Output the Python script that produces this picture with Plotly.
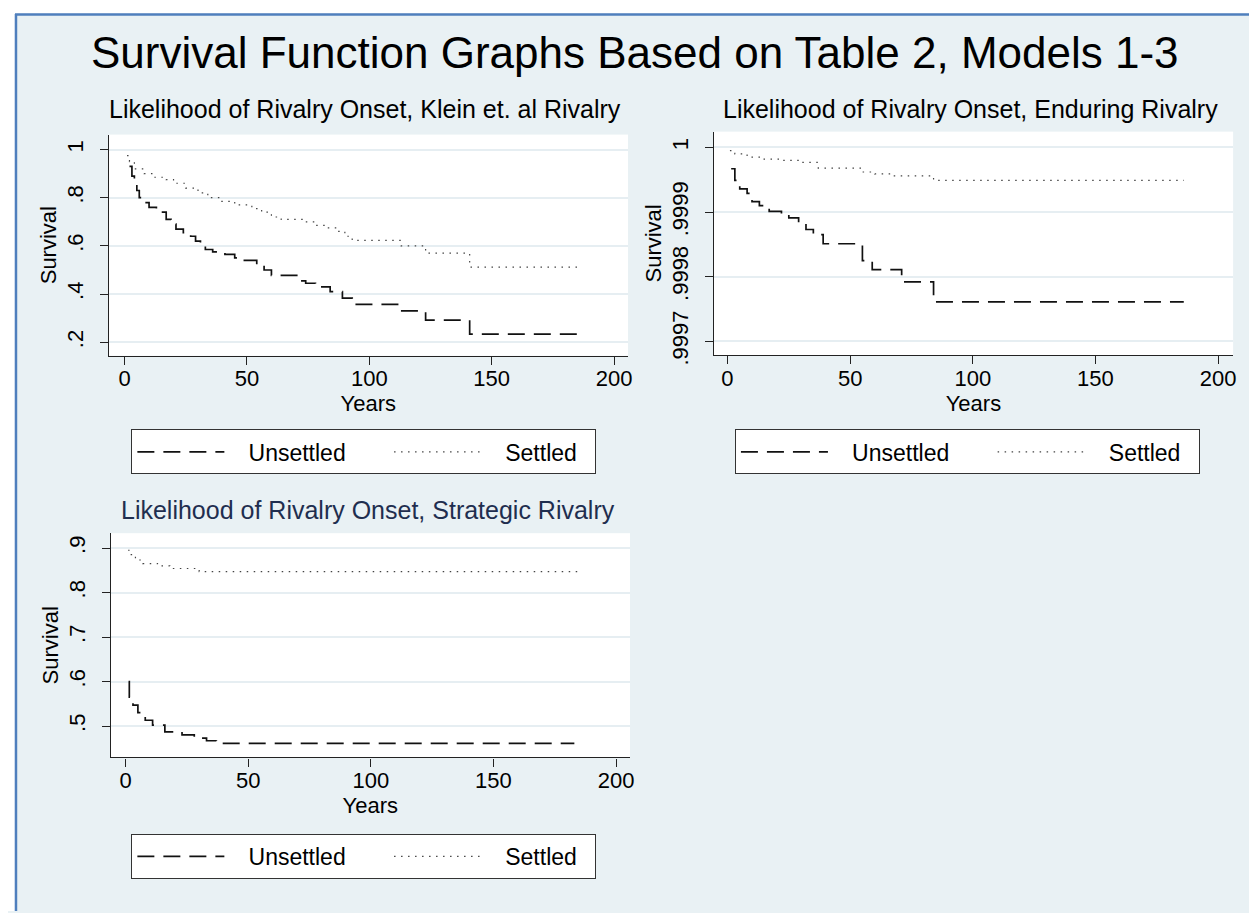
import plotly.graph_objects as go

W, H = 1257, 913

# ---------------- data ----------------
# Panel 1: Klein et. al rivalry
klein_unsettled_t = [2, 3, 4, 5, 6, 8, 10, 13, 15, 17, 19, 21, 24, 27, 29, 31, 33, 36, 41, 45, 48,
                     54, 57, 60, 71, 74, 78, 84, 89, 93, 112, 123, 141, 186]
klein_unsettled_s = [0.93, 0.89, 0.86, 0.83, 0.80, 0.78, 0.76, 0.755, 0.74, 0.71, 0.69, 0.67, 0.655,
                     0.64, 0.62, 0.60, 0.585, 0.575, 0.565, 0.55, 0.54, 0.52, 0.50, 0.478, 0.455,
                     0.445, 0.43, 0.41, 0.383, 0.357, 0.33, 0.292, 0.234, 0.234]
klein_settled_t = [1, 2, 4, 8, 12, 17, 20, 25, 30, 34, 39, 45, 52, 56, 60, 64, 73, 78, 83, 87, 90,
                   93, 113, 123, 141, 186]
klein_settled_s = [0.975, 0.95, 0.92, 0.90, 0.885, 0.875, 0.86, 0.84, 0.82, 0.80, 0.785, 0.77, 0.755,
                   0.74, 0.72, 0.71, 0.70, 0.685, 0.675, 0.66, 0.64, 0.623, 0.60, 0.57, 0.512, 0.512]

# Panel 2: Enduring rivalry
enduring_unsettled_t = [1.5, 3, 5, 8, 10, 13, 17, 22, 25, 29, 32, 35, 39, 55, 59, 71, 84, 186]
enduring_unsettled_s = [0.999967, 0.999949, 0.999936, 0.999929, 0.999916, 0.999910, 0.999901,
                        0.999896, 0.999891, 0.999883, 0.999873, 0.999865, 0.999851, 0.999825,
                        0.999811, 0.999792, 0.999761, 0.999761]
enduring_settled_t = [1, 3, 8, 14, 22, 30, 37, 55, 60, 68, 84, 186]
enduring_settled_s = [0.999995, 0.999990, 0.999985, 0.999982, 0.999980, 0.999977, 0.999968,
                      0.999962, 0.999959, 0.999956, 0.999949, 0.999949]

# Panel 3: Strategic rivalry
strategic_unsettled_t = [1.2, 1.5, 3, 5, 8, 11, 16, 23, 28, 33, 37, 183]
strategic_unsettled_s = [0.60, 0.565, 0.547, 0.53, 0.513, 0.502, 0.487, 0.48, 0.473, 0.467, 0.461, 0.461]
strategic_settled_t = [1, 2, 4, 7, 13, 18, 30, 185]
strategic_settled_s = [0.895, 0.885, 0.873, 0.865, 0.86, 0.854, 0.847, 0.847]

x_ticks = [0, 50, 100, 150, 200]
y1_ticks = [0.2, 0.4, 0.6, 0.8, 1.0]
y1_labels = [".2", ".4", ".6", ".8", "1"]
y2_ticks = [0.9997, 0.9998, 0.9999, 1.0]
y2_labels = [".9997", ".9998", ".9999", "1"]
y3_ticks = [0.5, 0.6, 0.7, 0.8, 0.9]
y3_labels = [".5", ".6", ".7", ".8", ".9"]

main_title = "Survival Function Graphs Based on Table 2, Models 1-3"
panel_titles = ["Likelihood of Rivalry Onset, Klein et. al Rivalry",
                "Likelihood of Rivalry Onset, Enduring Rivalry",
                "Likelihood of Rivalry Onset, Strategic Rivalry"]
series_names = ["Unsettled", "Settled"]

# ---------------- style ----------------
FONT = "Liberation Sans, Arial, Helvetica, sans-serif"
BG = "#e9f1f4"
GRID = "#e6eef2"
DASH = "17px,9px"
DOT = "1.5px,5.5px"
NB = "&nbsp;"
legend_labels = [NB * 3 + series_names[0] + NB * 6, NB * 3 + series_names[1] + NB * 2]

fig = go.Figure()

panels = [
    (klein_unsettled_t, klein_unsettled_s, klein_settled_t, klein_settled_s, "x", "y", "legend"),
    (enduring_unsettled_t, enduring_unsettled_s, enduring_settled_t, enduring_settled_s, "x2", "y2", "legend2"),
    (strategic_unsettled_t, strategic_unsettled_s, strategic_settled_t, strategic_settled_s, "x3", "y3", "legend3"),
]
for ut, us, st, ss, xa, ya, lg in panels:
    fig.add_trace(go.Scatter(x=ut, y=us, mode="lines", line_shape="hv", name=legend_labels[0],
                             line=dict(color="#111111", width=1.7, dash=DASH),
                             xaxis=xa, yaxis=ya, legend=lg, hoverinfo="skip"))
    fig.add_trace(go.Scatter(x=st, y=ss, mode="lines", line_shape="hv", name=legend_labels[1],
                             line=dict(color="#444444", width=1.2, dash=DOT),
                             xaxis=xa, yaxis=ya, legend=lg, hoverinfo="skip"))


def px_x(p):
    return p / W


def px_y(p):
    return 1 - p / H


def xaxis(domain, rng, anchor):
    return dict(domain=domain, range=rng, anchor=anchor, tickvals=x_ticks,
                showline=True, linecolor="#222222", linewidth=1.2,
                ticks="outside", ticklen=8, tickcolor="#222222", tickwidth=1.2,
                showgrid=False, zeroline=False, ticklabelstandoff=-5,
                tickfont=dict(family=FONT, size=22, color="black"),
                title=dict(text="Years", font=dict(family=FONT, size=22, color="black"), standoff=2))


def yaxis(domain, rng, anchor, vals, labels):
    return dict(domain=domain, range=rng, anchor=anchor, tickvals=vals, ticktext=labels,
                tickangle=-90, showline=True, linecolor="#222222", linewidth=1.2,
                ticks="outside", ticklen=8, tickcolor="#222222", tickwidth=1.2,
                showgrid=True, gridcolor=GRID, gridwidth=2, zeroline=False, ticklabelstandoff=8,
                tickfont=dict(family=FONT, size=22, color="black"),
                title=dict(text="Survival", font=dict(family=FONT, size=22, color="black"), standoff=0))


fig.update_layout(
    width=W, height=H,
    margin=dict(l=0, r=0, t=0, b=0),
    paper_bgcolor=BG, plot_bgcolor="white",
    font=dict(family=FONT, color="black"),
    xaxis=xaxis([px_x(101), px_x(622)], [-6.5, 205.7], "y"),
    yaxis=yaxis([px_y(351.6), px_y(128)], [0.144, 1.062], "x", y1_ticks, y1_labels),
    xaxis2=xaxis([px_x(708), px_x(1229)], [-5.6, 206.1], "y2"),
    yaxis2=yaxis([px_y(351), px_y(125)], [0.9996787, 1.0000244], "x2", y2_ticks, y2_labels),
    xaxis3=xaxis([px_x(103), px_x(624)], [-6.1, 205.7], "y3"),
    yaxis3=yaxis([px_y(757.7), px_y(531)], [0.4296, 0.9333], "x3", y3_ticks, y3_labels),
)

legend_style = dict(orientation="h", xanchor="center", yanchor="top",
                    bgcolor="white", bordercolor="#333333", borderwidth=1,
                    font=dict(family=FONT, size=23, color="black"),
                    itemwidth=87, entrywidth=0, itemclick=False, itemdoubleclick=False)
fig.update_layout(
    legend=dict(x=px_x(357), y=px_y(426), **legend_style),
    legend2=dict(x=px_x(962.5), y=px_y(426), **legend_style),
    legend3=dict(x=px_x(357), y=px_y(835), **legend_style),
)

# titles
fig.add_annotation(text=main_title, x=px_x(629), y=px_y(45), xref="paper", yref="paper",
                   showarrow=False, xanchor="center", yanchor="middle",
                   font=dict(family=FONT, size=44, color="black"))
title_pos = [(358, 102, "black"), (966, 102, "black"), (361, 507.5, "#1f2e4f")]
for (tx, ty, tc), txt in zip(title_pos, panel_titles):
    fig.add_annotation(text=txt, x=px_x(tx), y=px_y(ty), xref="paper", yref="paper",
                       showarrow=False, xanchor="center", yanchor="middle",
                       font=dict(family=FONT, size=25, color=tc))

# outer frame: white strip outside, blue border on top/left
fig.add_shape(type="rect", xref="paper", yref="paper", x0=0, x1=px_x(7), y0=0, y1=1,
              fillcolor="white", line_width=0, layer="above")
fig.add_shape(type="rect", xref="paper", yref="paper", x0=0, x1=1, y0=px_y(5.5), y1=1,
              fillcolor="white", line_width=0, layer="above")
fig.add_shape(type="line", xref="paper", yref="paper", x0=px_x(8), x1=px_x(8), y0=0, y1=px_y(6),
              line=dict(color="#4f7fbd", width=2.5), layer="above")
fig.add_shape(type="line", xref="paper", yref="paper", x0=px_x(7), x1=1, y0=px_y(6.5), y1=px_y(6.5),
              line=dict(color="#4f7fbd", width=2.5), layer="above")

fig.write_html("out.html")
